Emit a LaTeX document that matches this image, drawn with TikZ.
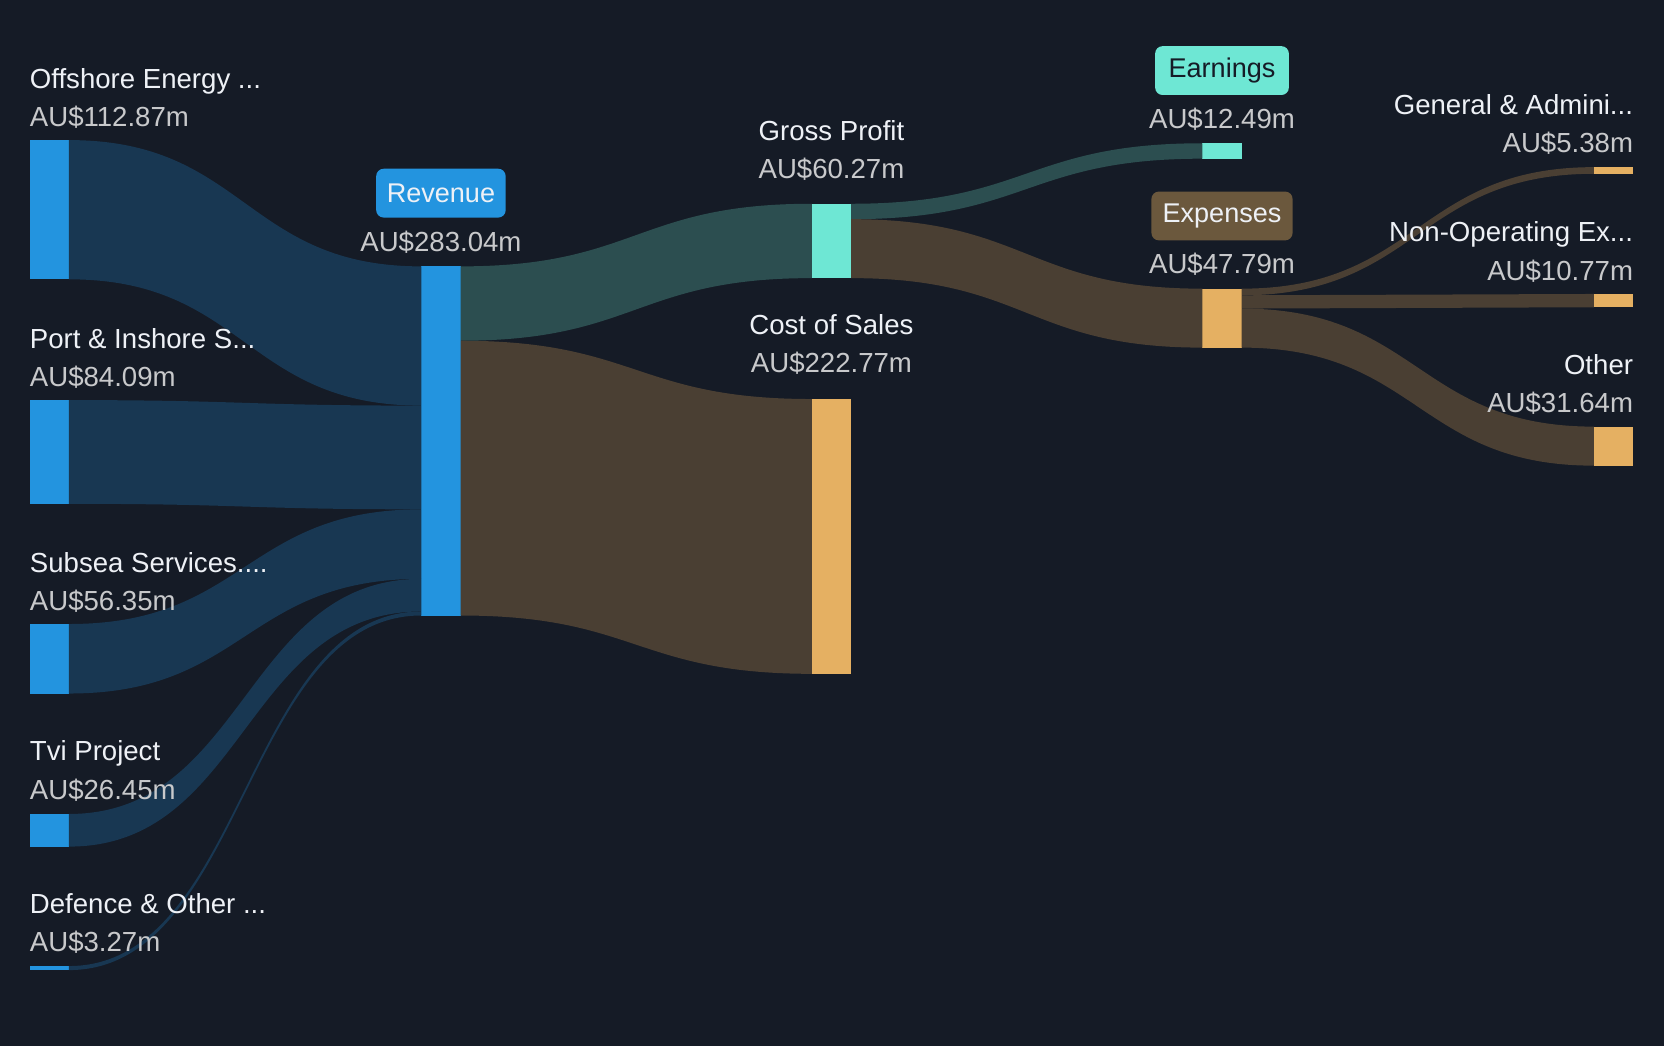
\documentclass[tikz,border=0pt]{standalone}
\usepackage{fontspec}
\setmainfont{Liberation Sans}
\usetikzlibrary{calc}

\definecolor{bg}{HTML}{151B26}
\definecolor{barblue}{HTML}{2394DF}
\definecolor{flowblue}{HTML}{183752}
\definecolor{barteal}{HTML}{6EE7D4}
\definecolor{flowteal}{HTML}{2C4E50}
\definecolor{barorange}{HTML}{E5B062}
\definecolor{flowbrown}{HTML}{4A3F33}
\definecolor{pillbrown}{HTML}{6B583D}
\definecolor{txtname}{HTML}{EEF1F6}
\definecolor{txtval}{HTML}{C8C9CB}

\tikzset{
  bar/.style={fill=#1, inner sep=0pt, outer sep=0pt, minimum width=37pt, anchor=north west},
  lbl/.style={text=txtname, inner sep=0pt, font=\fontsize{26}{30}\selectfont},
  val/.style={text=txtval, inner sep=0pt, font=\fontsize{26}{30}\selectfont},
  pill/.style={fill=#1, rounded corners=7pt, minimum height=46pt, inner sep=0pt, font=\fontsize{25.5}{30}\selectfont},
}

\newcommand\trunc{...}

% ribbon: colour, source bar, offset at source, target bar, offset at target, thickness
\newcommand\ribbon[6]{%
  \coordinate (s1) at ($(#2.north east)+(0,#3)$);
  \coordinate (s2) at ($(s1)+(0,#6)$);
  \coordinate (t1) at ($(#4.north west)+(0,#5)$);
  \coordinate (t2) at ($(t1)+(0,#6)$);
  \coordinate (m) at ($(s1)!0.5!(t1)$);
  \fill[#1] (s1) .. controls (m|-s1) and (m|-t1) .. (t1) -- (t2)
    .. controls (m|-t2) and (m|-s2) .. (s2) -- cycle;
}

\begin{document}
\begin{tikzpicture}[x=1pt,y=-1pt]
\fill[bg] (0,0) rectangle (1568,986);
\useasboundingbox (0,0) rectangle (1568,986);

\node[bar=barblue, minimum height=131.2pt] (off) at (28,132) {};
\node[bar=barblue, minimum height=97.74pt] (port) at (28,377) {};
\node[bar=barblue, minimum height=65.5pt] (sub) at (28,588) {};
\node[bar=barblue, minimum height=30.74pt] (tvi) at (28,767) {};
\node[bar=barblue, minimum height=3.8pt] (def) at (28,910.3) {};
\node[bar=barblue, minimum height=329pt] (rev) at (397,251) {};
\node[bar=barteal, minimum height=70.06pt] (gp) at (765,192) {};
\node[bar=barorange, minimum height=258.94pt] (cos) at (765,376) {};
\node[bar=barteal, minimum height=14.52pt] (earn) at (1133,135) {};
\node[bar=barorange, minimum height=55.55pt] (exp) at (1133,272) {};
\node[bar=barorange, minimum height=6.25pt] (gen) at (1502,157.5) {};
\node[bar=barorange, minimum height=12.52pt] (nonop) at (1502,277) {};
\node[bar=barorange, minimum height=36.78pt] (other) at (1502,402) {};

\foreach \c/\s/\a/\t/\b/\h in {flowblue/off/0/rev/0/131.2, flowblue/port/0/rev/131.2/97.74,
    flowblue/sub/0/rev/228.94/65.5, flowblue/tvi/0/rev/294.44/30.74, flowblue/def/0/rev/325.18/3.8,
    flowteal/rev/0/gp/0/70.06, flowbrown/rev/70.06/cos/0/258.94,
    flowteal/gp/0/earn/0/14.52, flowbrown/gp/14.52/exp/0/55.55,
    flowbrown/exp/0/gen/0/6.25, flowbrown/exp/6.25/nonop/0/12.52, flowbrown/exp/18.77/other/0/36.78} {
  \ribbon{\c}{\s}{\a}{\t}{\b}{\h}
}

\foreach \n/\y/\A/\B in {offl/83/Offshore Energy \trunc/AU\$112.87m, portl/328/Port \& Inshore S\trunc/AU\$84.09m,
    subl/539/Subsea Services.\trunc/AU\$56.35m, tvil/717/Tvi Project/AU\$26.45m,
    defl/861/Defence \& Other \trunc/AU\$3.27m} {
  \node[lbl, anchor=base west] (\n) at (28,\y) {\A};
  \node[val, anchor=base west] (\n v) at (28,\y+36) {\B};
}

\node[pill=barblue, text=txtname, minimum width=122pt] (revp) at (415.5,182) {Revenue};
\node[val, anchor=base] (revv) at (415.5,237) {AU\$283.04m};
\node[lbl, anchor=base] (gpl) at (783.5,132) {Gross Profit};
\node[val, anchor=base] (gpv) at (783.5,168) {AU\$60.27m};
\node[lbl, anchor=base] (cosl) at (783.5,315) {Cost of Sales};
\node[val, anchor=base] (cosv) at (783.5,351) {AU\$222.77m};
\node[pill=barteal, text=bg, minimum width=126pt] (earnp) at (1151.5,66.5) {Earnings};
\node[val, anchor=base] (earnv) at (1151.5,121) {AU\$12.49m};
\node[pill=pillbrown, text=txtname, minimum width=133pt] (expp) at (1151.5,203.5) {Expenses};
\node[val, anchor=base] (expv) at (1151.5,258) {AU\$47.79m};

\foreach \n/\y/\A/\B in {genl/108/General \& Admini\trunc/AU\$5.38m, nonopl/228/Non-Operating Ex\trunc/AU\$10.77m,
    otherl/353/Other/AU\$31.64m} {
  \node[lbl, anchor=base east] (\n) at (1539,\y) {\A};
  \node[val, anchor=base east] (\n v) at (1539,\y+36) {\B};
}
\end{tikzpicture}
\end{document}
